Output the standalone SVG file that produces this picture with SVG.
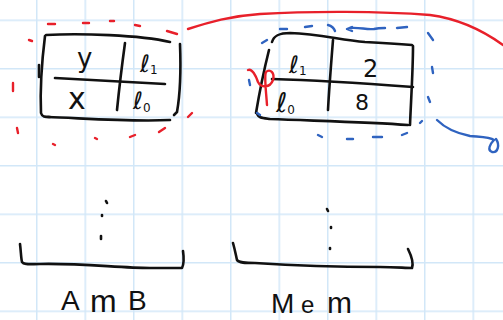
<svg xmlns="http://www.w3.org/2000/svg" width="503" height="320" viewBox="0 0 503 320">
  <defs>
    <pattern id="grid" patternUnits="userSpaceOnUse" x="36" y="19.5" width="48.5" height="48.5">
      <path d="M0.75,0 V48.5 M0,0.75 H48.5" fill="none" stroke="#d2e7f8" stroke-width="1.5"/>
    </pattern>
    <style>
      .ink { fill: none; stroke: #111; stroke-width: 2.6; stroke-linecap: round; stroke-linejoin: round; }
      .red { fill: none; stroke: #e8202a; stroke-width: 2.4; stroke-linecap: round; stroke-linejoin: round; }
      .blue { fill: none; stroke: #2f63c0; stroke-width: 2.4; stroke-linecap: round; stroke-linejoin: round; }
      .hand { font-family: "DejaVu Sans", "Liberation Sans", sans-serif; fill: #111; }
      .cell { font-size: 24px; }
      .sub { font-size: 12px; }
      .lbl { font-family: "Liberation Sans", "DejaVu Sans", sans-serif; fill: #111; font-size: 28px; }
    </style>
  </defs>

  <!-- squared paper -->
  <rect width="503" height="320" fill="#ffffff"/>
  <rect width="503" height="320" fill="url(#grid)"/>

  <!-- environment table (Amb) -->
  <g id="amb-table">
    <path class="ink" d="M46,35 C80,33 140,35 170,42"/>
    <path class="ink" d="M45,36 C42,60 40,90 41,113 C42,117 45,117 50,117"/>
    <path class="ink" d="M39,65 L39,77"/>
    <path class="ink" d="M48,117 C80,118 130,122 170,120"/>
    <path class="ink" d="M180,44 C181,70 180,95 177,112 L174,115"/>
    <path class="ink" d="M55,78 C90,80 130,82 165,84"/>
    <path class="ink" d="M125,43 C122,65 119,90 117,110"/>
    <text class="hand" x="77" y="67" font-size="26">y</text>
    <text class="hand cell" x="140" y="72">ℓ<tspan class="sub" dy="2">1</tspan></text>
    <text class="hand" x="68" y="109" font-size="30">x</text>
    <text class="hand cell" x="133" y="109">ℓ<tspan class="sub" dy="3">0</tspan></text>
  </g>

  <!-- memory table (Mem) -->
  <g id="mem-table">
    <path class="ink" d="M272,42 C274,35 280,33 290,33 C320,34 340,40 365,42 C385,43 400,44 412,45"/>
    <path class="ink" d="M413,46 C413,70 411,100 410,125"/>
    <path class="ink" d="M269,50 C264,70 259,95 256,113"/>
    <path class="ink" d="M257,113 C258,118 262,118 270,119 C320,121 370,122 408,125"/>
    <path class="ink" d="M272,79 C310,80 360,83 413,87"/>
    <path class="ink" d="M333,40 C331,65 329,90 328,110"/>
    <text class="hand cell" x="289" y="73">ℓ<tspan class="sub" dy="2">1</tspan></text>
    <text class="hand" x="363" y="77" font-size="24">2</text>
    <text class="hand" x="276" y="112" font-size="27">ℓ<tspan class="sub" dy="2">0</tspan></text>
    <text class="hand" x="355" y="110" font-size="22">8</text>
  </g>

  <!-- stack ends with continuation dots -->
  <g id="amb-stack">
    <path class="ink" d="M20,244 C21,252 21,258 22,262 C24,265 30,264 40,264 C80,263 120,268 150,268 C165,268 178,268 182,268 C184,264 184,258 183,251"/>
    <path class="ink" d="M106,201 L107,203"/>
    <path class="ink" d="M102,215 L102,216"/>
    <path class="ink" d="M101,236 L101,239"/>
    <text class="lbl"><tspan x="61" y="310">A</tspan><tspan x="90" y="312" font-size="32">m</tspan><tspan x="128" y="310">B</tspan></text>
  </g>
  <g id="mem-stack">
    <path class="ink" d="M233,243 C235,250 236,256 237,260 C239,263 245,263 255,263 C300,266 340,267 380,267 C395,267 405,268 412,268 C414,262 411,255 408,249"/>
    <path class="ink" d="M327,209 L328,211"/>
    <path class="ink" d="M331,227 L331,228"/>
    <path class="ink" d="M330,248 L330,249"/>
    <text class="lbl" font-size="22"><tspan x="271" y="313">M</tspan><tspan x="301" y="313" font-size="24">e</tspan><tspan x="327" y="313" font-size="30">m</tspan></text>
  </g>

  <!-- annotations -->
  <g id="connectors">
    <!-- red dashed boundary around the environment -->
    <path class="red" d="M29,40 L32,41 M48,24 L55,24 M83,23 L89,23 M110,21 L114,21 M135,25 L140,26 M167,31 L177,34
                         M13,83 L13,91 M17,128 L18,133 M53,144 L55,145 M95,138 L97,139 M130,137 L135,135
                         M159,132 L165,128 M188,117 L192,113"/>
    <!-- red link from environment to memory -->
    <path class="red" d="M188,29 C210,22 230,16 260,14 C310,11 380,11 430,15 C460,19 485,32 503,45"/>
    <path class="red" d="M248,70 C252,68 256,76 258,82 C261,88 270,88 273,80 C275,73 270,68 266,72 C264,76 266,90 267,105"/>
    <!-- blue dashed boundary around the memory -->
    <path class="blue" d="M262,43 L267,40 M280,29 L287,29 M305,27 L312,26 M328,25 C332,26 334,28 335,31
                          M350,28 C360,27 366,30 374,29 C378,28 382,28 385,28 M397,28 L407,27
                          M428,33 L433,40 M432,67 L433,73 M428,97 L430,102 M420,123 L422,121
                          M402,135 L407,133 M373,137 L382,137 M347,139 L353,139 M318,135 L322,137
                          M249,80 L250,85 M257,113 L260,115"/>
    <path class="blue" d="M352,27 L347,29 L352,31"/>
    <!-- blue tail -->
    <path class="blue" d="M437,120 C445,128 455,133 470,136 C480,137 490,137 494,140 C490,144 487,150 492,152 C498,153 500,145 496,139"/>
  </g>
</svg>
